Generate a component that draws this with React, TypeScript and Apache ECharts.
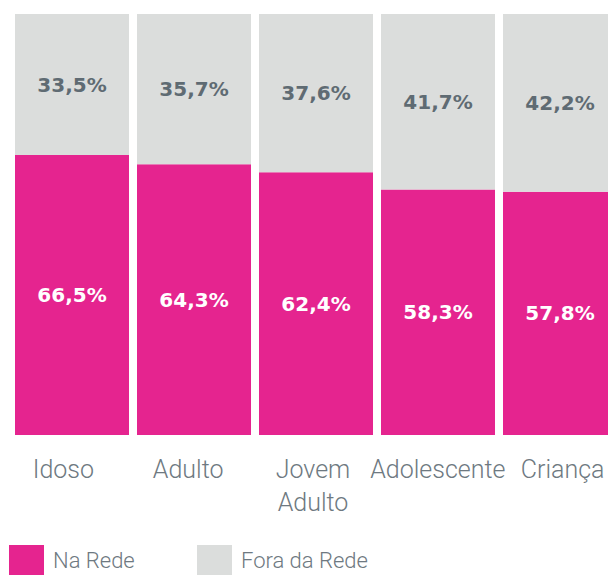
import React, { useEffect, useRef } from "react";
import * as echarts from "echarts";

const categories = ["Idoso", "Adulto", "Jovem\nAdulto", "Adolescente", "Criança"];
const naRede = [66.5, 64.3, 62.4, 58.3, 57.8];
const foraDaRede = [33.5, 35.7, 37.6, 41.7, 42.2];

const PINK = "#E5248F";
const GRAY = "#DBDDDC";
const TEXT = "#6E7981";

export default function App() {
  const ref = useRef<HTMLDivElement>(null);
  useEffect(() => {
    document.body.style.margin = "0";
    if (!ref.current) return;
    const chart = echarts.init(ref.current, null, { renderer: "svg" });
    const fmt = (p: any) => String(p.value.toFixed(1)).replace(".", ",") + "%";
    const legendText = {
      fontFamily: "Roboto",
      fontWeight: 300,
      fontSize: 22,
      color: TEXT,
      padding: [0, 0, 0, 4],
    };
    const barLabel = {
      show: true,
      position: "inside",
      formatter: fmt,
      fontFamily: "DejaVu Sans",
      fontWeight: "bold",
      fontSize: 20,
    };
    chart.setOption({
      animation: false,
      grid: [
        { left: 11, right: 7, top: 14, bottom: 140, containLabel: false },
        { left: 1, right: 3, top: 14, bottom: 140, containLabel: false },
      ],
      legend: [
        {
          left: 9,
          top: 545,
          padding: 0,
          itemWidth: 35,
          itemHeight: 30,
          icon: "rect",
          data: ["Na Rede"],
          textStyle: legendText,
        },
        {
          left: 197,
          top: 545,
          padding: 0,
          itemWidth: 35,
          itemHeight: 30,
          icon: "rect",
          data: ["Fora da Rede"],
          textStyle: legendText,
        },
      ],
      xAxis: [
        {
          type: "category",
          data: categories,
          gridIndex: 0,
          axisLine: { show: false },
          axisTick: { show: false },
          axisLabel: { show: false },
        },
        {
          type: "category",
          data: categories,
          gridIndex: 1,
          axisLine: { show: false },
          axisTick: { show: false },
          axisLabel: {
            interval: 0,
            margin: 18,
            fontFamily: "Roboto",
            fontWeight: 300,
            fontSize: 25,
            lineHeight: 33,
            color: TEXT,
          },
        },
      ],
      yAxis: [
        { type: "value", min: 0, max: 100, show: false, gridIndex: 0 },
        { type: "value", min: 0, max: 100, show: false, gridIndex: 1 },
      ],
      series: [
        {
          name: "Na Rede",
          type: "bar",
          stack: "t",
          data: naRede,
          barCategoryGap: "6.56%",
          itemStyle: { color: PINK },
          label: { ...barLabel, color: "#FFFFFF" },
        },
        {
          name: "Fora da Rede",
          type: "bar",
          stack: "t",
          data: foraDaRede,
          barCategoryGap: "6.56%",
          itemStyle: { color: GRAY },
          label: { ...barLabel, color: "#5F6B73" },
        },
      ],
    });
    return () => chart.dispose();
  }, []);
  return (
    <div style={{ width: 608, height: 575, overflow: "hidden" }}>
      <div ref={ref} style={{ width: 628, height: 575 }} />
    </div>
  );
}
